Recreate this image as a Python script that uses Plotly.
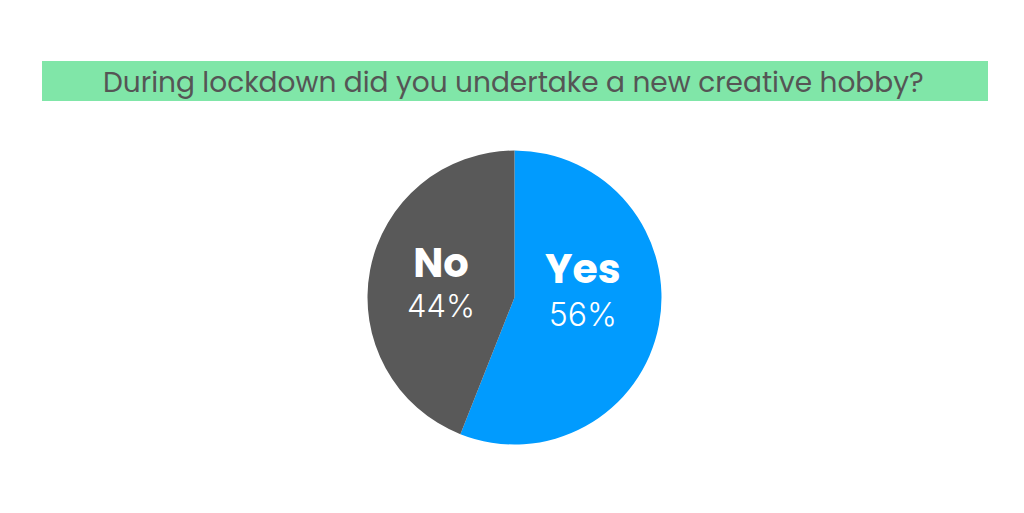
import plotly.graph_objects as go

labels = ["Yes", "No"]
values = [56, 44]
colors = ["#019bfe", "#595959"]
title = "During lockdown did you undertake a new creative hobby?"

W, H = 1024, 513
cx, cy, r = 514.5, 297.5, 147

# label placement (page pixels) — style/layout only
label_pos = {"Yes": (583, 287), "No": (441, 279)}
label_size = {"Yes": 41, "No": 40}
pct_size = {"Yes": 32, "No": 31}
line_base = {"Yes": 33, "No": 31}

fig = go.Figure(go.Pie(
    labels=labels,
    values=values,
    sort=False,
    direction="clockwise",
    rotation=0,
    marker=dict(colors=colors, line=dict(width=0)),
    textinfo="none",
    hoverinfo="label+percent",
    showlegend=False,
    domain=dict(x=[(cx - r) / W, (cx + r) / W], y=[1 - (cy + r) / H, 1 - (cy - r) / H]),
))

total = sum(values)
for lab, val in zip(labels, values):
    lx, ly = label_pos[lab]
    txt = (f"<span style='font-family:Poppins;font-weight:bold;font-size:{label_size[lab]}px'>{lab}</span>"
           f"<br><span style='font-size:{pct_size[lab]}px'>{round(100 * val / total)}%</span>")
    fig.add_annotation(text=txt, xref="paper", yref="paper", x=lx / W, y=1 - ly / H,
                       showarrow=False, xanchor="center", yanchor="middle", align="center",
                       font=dict(family="Inter, sans-serif", size=line_base[lab], color="white", weight=300))

fig.add_shape(type="rect", xref="paper", yref="paper",
              x0=42 / W, x1=988 / W, y0=1 - 101 / H, y1=1 - 61 / H,
              fillcolor="#80e6a8", line=dict(width=0), layer="below")
fig.add_annotation(text=title, xref="paper", yref="paper", x=513.5 / W, y=1 - 82 / H,
                   showarrow=False, xanchor="center", yanchor="middle",
                   font=dict(family="Poppins, Lato, sans-serif", size=28, color="#555555"))

fig.update_layout(width=W, height=H, margin=dict(l=0, r=0, t=0, b=0),
                  paper_bgcolor="white", plot_bgcolor="white")
fig.write_html("out.html", config={"displayModeBar": False},
               post_script="document.body.style.margin='0';")
